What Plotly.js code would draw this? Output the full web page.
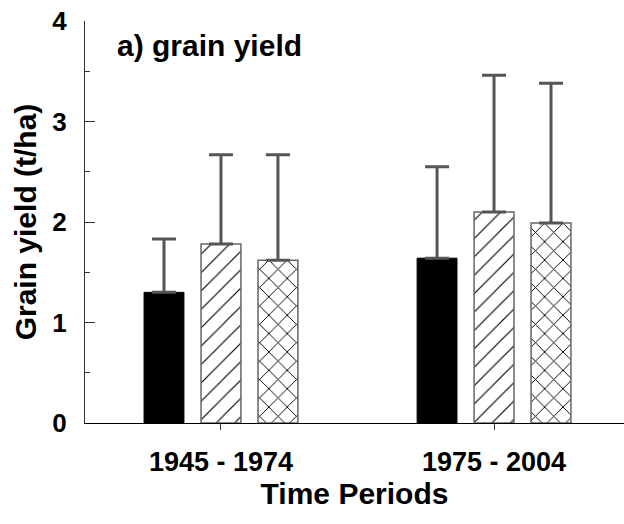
<!DOCTYPE html>
<html>
<head>
<meta charset="utf-8">
<script src="https://cdn.plot.ly/plotly-3.0.1.min.js"></script>
<style>html,body{margin:0;padding:0;background:#fff;}#chart{width:624px;height:524px;}</style>
</head>
<body>
<div id="chart"></div>
<script>
const categories = ["1945 - 1974", "1975 - 2004"];
const solidValues = [1.30, 1.64];
const solidErrors = [0.53, 0.91];
const hatchValues = [1.78, 2.10];
const hatchErrors = [0.89, 1.36];
const crossValues = [1.62, 1.99];
const crossErrors = [1.05, 1.39];
const yTickVals = [0, 1, 2, 3, 4];
const yTickText = ["0", "1", "2", "3", "4"];

const FONT = "Liberation Sans, Arial, Helvetica, sans-serif";
const errStyle = (arr) => ({
  type: "data", symmetric: false, array: arr,
  arrayminus: arr.map(() => 0),
  color: "#555555", thickness: 3, width: 12
});

const traces = [
  {
    type: "bar", x: categories, y: solidValues,
    marker: { color: "#000000", line: { color: "#000000", width: 1 } },
    error_y: errStyle(solidErrors)
  },
  {
    type: "bar", x: categories, y: hatchValues,
    marker: {
      color: "#ffffff",
      line: { color: "#666666", width: 1.5 },
      pattern: { shape: "/", fgcolor: "#000000", bgcolor: "#ffffff", size: 13, solidity: 0.09 }
    },
    error_y: errStyle(hatchErrors)
  },
  {
    type: "bar", x: categories, y: crossValues,
    marker: {
      color: "#ffffff",
      line: { color: "#666666", width: 1.5 },
      pattern: { shape: "x", fgcolor: "#000000", bgcolor: "#ffffff", size: 13, solidity: 0.14 }
    },
    error_y: errStyle(crossErrors)
  }
];

const layout = {
  width: 624, height: 524,
  margin: { l: 85, r: 0, t: 21, b: 101 },
  paper_bgcolor: "#ffffff", plot_bgcolor: "#ffffff",
  showlegend: false,
  barmode: "group", bargap: 0.374, bargroupgap: 0.3,
  font: { family: FONT, color: "#000000" },
  xaxis: {
    type: "category",
    range: [-0.498, 1.476],
    showline: true, linecolor: "#000000", linewidth: 1,
    ticks: "outside", ticklen: 6, tickcolor: "#333333",
    showgrid: false, zeroline: false,
    ticklabelstandoff: 9,
    tickfont: { family: FONT, size: 27, weight: "bold", color: "#000000" },
    title: { text: "Time Periods", font: { family: FONT, size: 30, weight: "bold", color: "#000000" }, standoff: 4 }
  },
  yaxis: {
    range: [0, 4],
    tickvals: yTickVals, ticktext: yTickText,
    showline: true, linecolor: "#333333", linewidth: 1,
    ticks: "inside", ticklen: 10, tickcolor: "#333333",
    minor: { dtick: 0.5, ticks: "inside", ticklen: 5, tickcolor: "#333333", showgrid: false },
    showgrid: false, zeroline: false,
    ticklabelstandoff: 12,
    tickfont: { family: FONT, size: 26, weight: "bold", color: "#000000" },
    title: { text: "Grain yield (t/ha)", font: { family: FONT, size: 30, weight: "bold", color: "#000000" }, standoff: 6 }
  },
  annotations: [{
    text: "a) grain yield", xref: "paper", yref: "paper",
    x: 0.0557, y: 0.94, xanchor: "left", yanchor: "middle",
    showarrow: false,
    font: { family: FONT, size: 30, weight: "bold", color: "#000000" }
  }]
};

Plotly.newPlot("chart", traces, layout, { displayModeBar: false, staticPlot: true });
</script>
</body>
</html>
